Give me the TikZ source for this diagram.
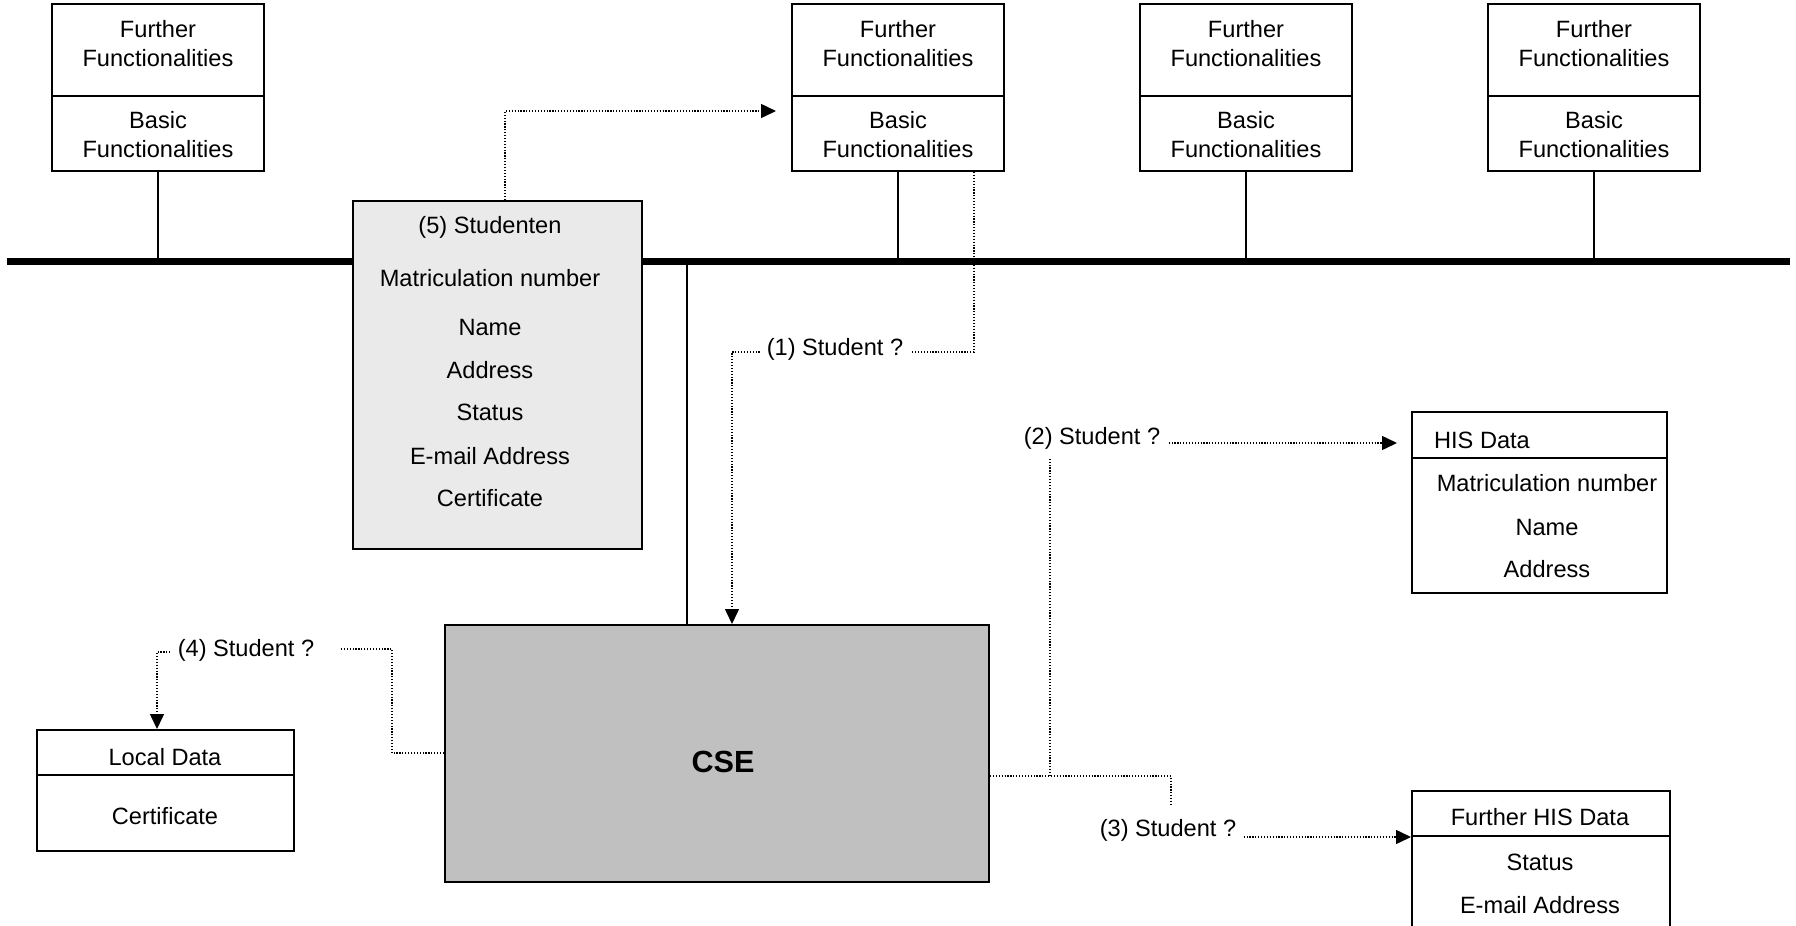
\documentclass[tikz,border=0pt]{standalone}
\usepackage{fontspec}
\setmainfont{Liberation Sans}
\usetikzlibrary{arrows.meta,calc}
\definecolor{studfill}{HTML}{EAEAEA}
\definecolor{csefill}{HTML}{C0C0C0}
\begin{document}
\begin{tikzpicture}[x=0.5pt,y=-0.5pt,
  txt/.style={font=\fontsize{11.8}{14.5}\selectfont, inner sep=0pt},
  box/.style={draw, line width=1pt, inner sep=0pt},
  thinline/.style={line width=0.8pt},
  dotline/.style={line width=0.75pt, dash pattern=on 0.6pt off 0.85pt},
  dotarr/.style={dotline, -{Triangle[length=7.5pt,width=7pt]}},
  lbl/.style={txt, fill=white, inner xsep=3.5pt, inner ysep=2pt}]
\useasboundingbox (0,0) rectangle (1796,926);
\clip (0,0) rectangle (1796,926);

% bus
\coordinate (busL) at (7,261);
\coordinate (busR) at (1790,261);
\draw[line width=3.5pt] (busL) -- (busR);

% top boxes
\foreach \i/\x in {1/158,2/898,3/1246,4/1594}{
  \node[box, minimum width=106pt, minimum height=46pt] (f\i) at (\x,50) {};
  \node[box, minimum width=106pt, minimum height=37.5pt] (b\i) at (\x,133.5) {};
  \node[txt, align=center] (ft\i) at (\x,44) {Further\\Functionalities};
  \node[txt, align=center] (bt\i) at (\x,135) {Basic\\Functionalities};
  \draw[thinline] (b\i.south) -- (b\i.south |- busL);
}

% Studenten box
\node[draw, line width=1pt, fill=studfill, minimum width=144.5pt, minimum height=174pt, inner sep=0pt] (stud) at (497.5,375) {};
\node[txt] (s1) at (490,227) {(5) Studenten};
\node[txt] (s2) at (490,278) {Matriculation number};
\node[txt] (s3) at (490,327) {Name};
\node[txt] (s4) at (490,370) {Address};
\node[txt] (s5) at (490,412) {Status};
\node[txt] (s6) at (490,456) {E-mail Address};
\node[txt] (s7) at (490,498) {Certificate};

% CSE
\node[draw, line width=1pt, fill=csefill, minimum width=272pt, minimum height=128.5pt, inner sep=0pt] (cse) at (717,753.5) {};
\node[txt, font=\fontsize{15.3}{18}\selectfont\bfseries] (csetxt) at (723,762) {CSE};
\coordinate (stem) at (687,261);
\draw[thinline] (stem) -- (stem |- cse.north);

% HIS Data
\node[box, minimum width=127.5pt, minimum height=23pt] (hish) at (1539.5,435) {};
\node[box, minimum width=127.5pt, minimum height=67.5pt] (hisb) at (1539.5,525.5) {};
\node[txt] (h0) at (1482,440) {HIS Data};
\node[txt] (h1) at (1547,483) {Matriculation number};
\node[txt] (h2) at (1547,527) {Name};
\node[txt] (h3) at (1547,569) {Address};

% Further HIS Data
\node[box, minimum width=129pt, minimum height=22.5pt] (fhish) at (1541,813.5) {};
\node[box, minimum width=129pt, minimum height=62pt] (fhisb) at (1541,898) {};
\node[txt] (g0) at (1540,817) {Further HIS Data};
\node[txt] (g1) at (1540,862) {Status};
\node[txt] (g2) at (1540,905) {E-mail Address};

% Local Data
\node[box, minimum width=128.5pt, minimum height=22.5pt] (loch) at (165.5,752.5) {};
\node[box, minimum width=128.5pt, minimum height=38pt] (locb) at (165.5,813) {};
\node[txt] (l0) at (165,757) {Local Data};
\node[txt] (l1) at (165,816) {Certificate};

% (5)
\coordinate (c5) at (505,111);
\draw[dotarr] (stud.north -| c5) -- (c5) -- ($(b2.west |- c5)+(-15,0)$);

% (1)
\coordinate (c1a) at (974,352);
\coordinate (c1b) at (732,352);
\draw[dotarr] (b2.south -| c1a) -- (c1a) -- (c1b) -- (cse.north -| c1b);
\node[lbl] (L1) at (835,349) {(1) Student ?};

% (2) and (3)
\coordinate (j1) at (1050,776);
\coordinate (j2) at (1171,776);
\coordinate (j3) at (1171,804);
\coordinate (j4) at (1050,458);
\draw[dotline] (cse.east |- j1) -- (j2) -- (j3);
\draw[dotline] (j1) -- (j4);
\node[txt, inner xsep=4pt] (L2) at (1092,438) {(2) Student ?};
\coordinate (a2) at (1397,443);
\draw[dotarr] (L2.east |- a2) -- (a2);
\node[txt, inner xsep=3.5pt] (L3) at (1168,830) {(3) Student ?};
\draw[dotarr] (L3.east |- fhish.south west) -- (fhish.south west);

% (4)
\coordinate (k1) at (392,753);
\coordinate (k2) at (392,649);
\coordinate (k4) at (340,649);
\draw[dotline] (cse.west |- k1) -- (k1) -- (k2) -- (k4);
\node[txt, inner xsep=3.5pt] (L4) at (246,650) {(4) Student ?};
\coordinate (k3) at (157,652);
\draw[dotarr] (L4.west |- k3) -- (k3) -- (loch.north -| k3);
\end{tikzpicture}
\end{document}
